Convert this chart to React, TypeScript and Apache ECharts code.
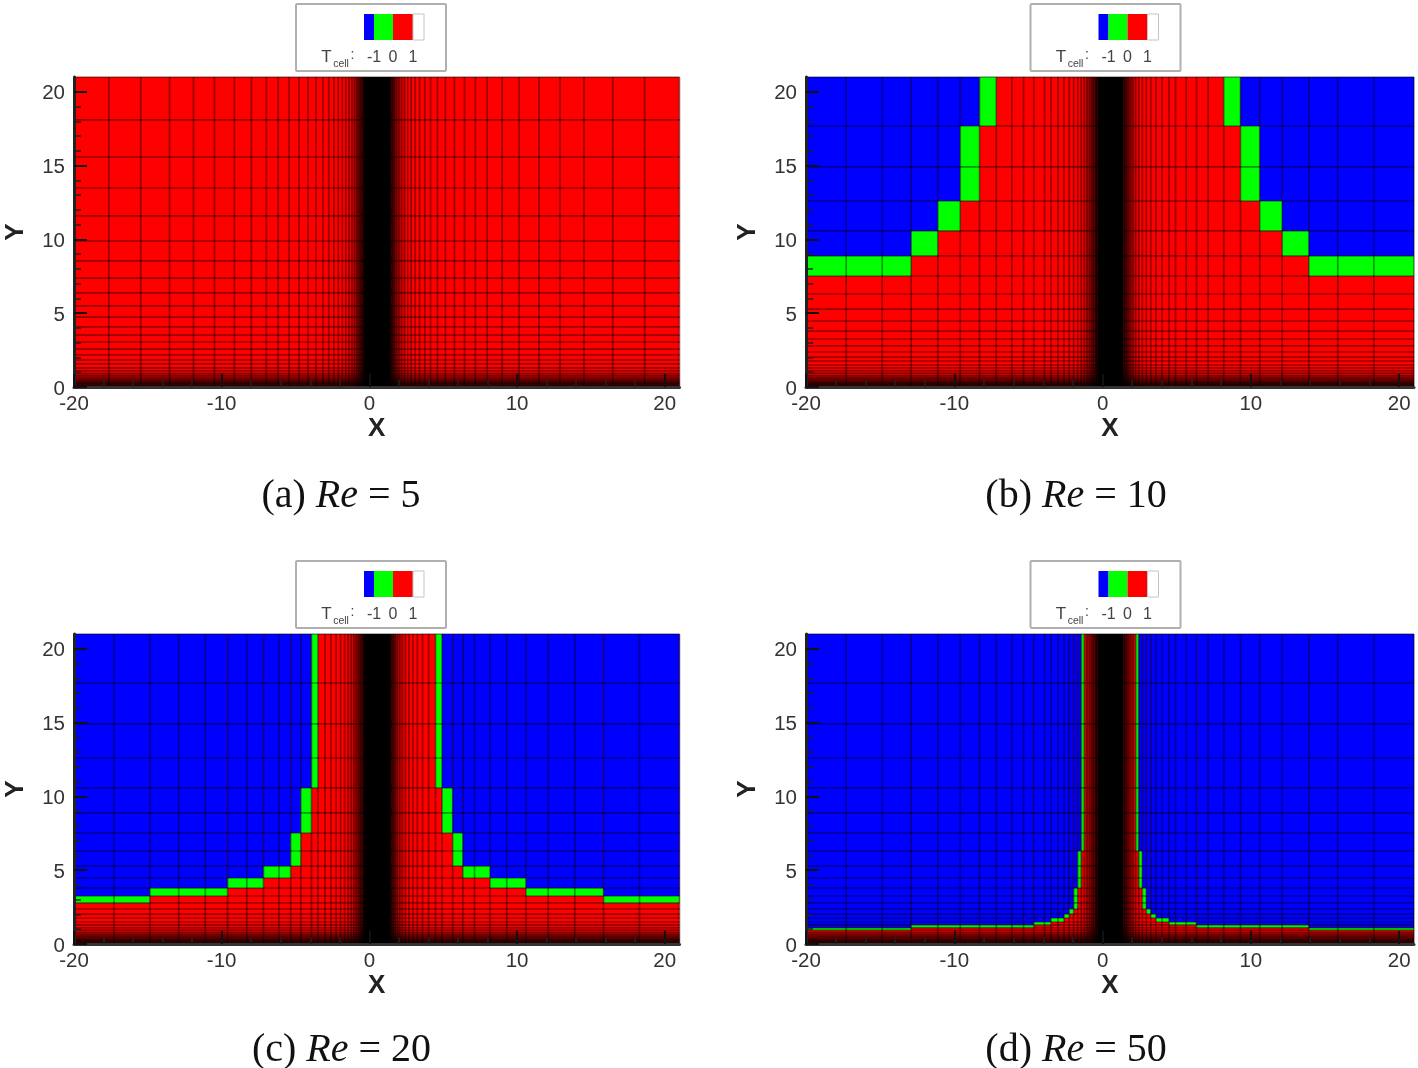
import React, { useEffect, useRef } from "react";
import * as echarts from "echarts";

const X_MIN = -20, X_MAX = 21, Y_MIN = 0, Y_MAX = 21;

const xMajorTicks = [-20, -10, 0, 10, 20];
const xMinorTicks = [-18, -16, -14, -12, -8, -6, -4, -2, 2, 4, 6, 8, 12, 14, 16, 18];
const yMajorTicks = [0, 5, 10, 15, 20];
const yMinorTicks = [1, 2, 3, 4, 6, 7, 8, 9, 11, 12, 13, 14, 16, 17, 18, 19];

const xMeshA = [-20, -17.64, -15.48, -13.53, -11.91, -10.49, -9.14, -7.99, -6.98, -6.18, -5.44, -4.76, -4.15, -3.61, -3.14, -2.75, -2.4, -2.1, -1.83, -1.6, -1.38, -1.18, -1.0, -0.85, -0.72, -0.6,
  1.6, 1.72, 1.85, 2.0, 2.18, 2.38, 2.6, 2.83, 3.1, 3.4, 3.75, 4.14, 4.61, 5.15, 5.76, 6.44, 7.18, 7.98, 8.99, 10.14, 11.49, 12.91, 14.53, 16.48, 18.64, 21];
const yMeshA = [0, 0.22, 0.3, 0.38, 0.48, 0.6, 0.75, 0.9, 1.1, 1.3, 1.56, 1.83, 2.17, 2.57, 3.05, 3.52, 4.07, 4.74, 5.49, 6.37, 7.38, 8.54, 9.89, 11.59, 13.48, 15.58, 18.09, 21];
const xMeshB = [-20, -17.29, -14.86, -12.91, -11.11, -9.6, -8.3, -7.17, -6.12, -5.33, -4.64, -3.92, -3.48, -3.01, -2.6, -2.25, -1.95, -1.68, -1.44, -1.23, -1.05, -0.89, -0.75, -0.62,
  1.62, 1.75, 1.89, 2.05, 2.23, 2.44, 2.68, 2.95, 3.25, 3.6, 4.01, 4.48, 4.92, 5.64, 6.33, 7.12, 8.17, 9.3, 10.6, 12.11, 13.91, 15.86, 18.29, 21];
const yMeshB = [0, 0.2, 0.27, 0.35, 0.44, 0.54, 0.65, 0.78, 0.93, 1.1, 1.29, 1.49, 1.76, 2.03, 2.37, 2.78, 3.25, 3.79, 4.47, 5.28, 6.3, 7.52, 8.88, 10.57, 12.6, 14.91, 17.68, 21];

// Green (Tcell = 0) cells: [x from, x to, y from, y to]. Below is red (1), above is blue (-1).
const greenA: number[][] = [];
const greenB = [
  [-20, -12.91, 7.52, 8.88], [-12.91, -11.11, 8.88, 10.57], [-11.11, -9.6, 10.57, 12.6], [-9.6, -8.3, 12.6, 17.68], [-8.3, -7.17, 17.68, 21],
  [8.17, 9.3, 17.68, 21], [9.3, 10.6, 12.6, 17.68], [10.6, 12.11, 10.57, 12.6], [12.11, 13.91, 8.88, 10.57], [13.91, 21, 7.52, 8.88],
];
const greenC = [
  [-20, -14.86, 2.78, 3.25], [-14.86, -9.6, 3.25, 3.79], [-9.6, -7.17, 3.79, 4.47], [-7.17, -5.33, 4.47, 5.28], [-5.33, -4.64, 5.28, 7.52], [-4.64, -3.92, 7.52, 10.57], [-3.92, -3.48, 10.57, 21],
  [4.48, 4.92, 10.57, 21], [4.92, 5.64, 7.52, 10.57], [5.64, 6.33, 5.28, 7.52], [6.33, 8.17, 4.47, 5.28], [8.17, 10.6, 3.79, 4.47], [10.6, 15.86, 3.25, 3.79], [15.86, 21, 2.78, 3.25],
];
const greenD = [
  [-20, -12.91, 0.93, 1.1], [-12.91, -4.64, 1.1, 1.29], [-4.64, -3.48, 1.29, 1.49], [-3.48, -2.6, 1.49, 1.76], [-2.6, -2.25, 1.76, 2.03], [-2.25, -1.95, 2.03, 2.37], [-1.95, -1.68, 2.37, 3.79], [-1.68, -1.44, 3.79, 6.3], [-1.44, -1.23, 6.3, 21],
  [2.23, 2.44, 6.3, 21], [2.44, 2.68, 3.79, 6.3], [2.68, 2.95, 2.37, 3.79], [2.95, 3.25, 2.03, 2.37], [3.25, 3.6, 1.76, 2.03], [3.6, 4.48, 1.49, 1.76], [4.48, 6.33, 1.29, 1.49], [6.33, 13.91, 1.1, 1.29], [13.91, 21, 0.93, 1.1],
];

// Darkened zones next to the walls: [x from, x to, y from, y to, kind]
const wallShades = [
  [-1.7, -0.36, 0, 21, 0],
  [-0.36, 1.4, 0, 21, 1],
  [1.4, 2.65, 0, 21, 2],
  [-20, 21, 0, 1.4, 3],
];

const RED = "#ff0000", GREEN = "#00ff00", BLUE = "#0000ff";
const legendColors = [BLUE, GREEN, RED, "#ffffff"];
const legendLabels = ["-1", "0", "1"];
const SANS = "'Liberation Sans', Arial, sans-serif";
const SERIF = "'Liberation Serif', 'Times New Roman', serif";

const panels = [
  { left: 71.5, top: 77, green: greenA, xMesh: xMeshA, yMesh: yMeshA, tag: "(a) ", re: " = 5", capX: 341, capY: 493 },
  { left: 806, top: 77, green: greenB, xMesh: xMeshB, yMesh: yMeshB, tag: "(b) ", re: " = 10", capX: 1076, capY: 493 },
  { left: 71.5, top: 634, green: greenC, xMesh: xMeshB, yMesh: yMeshB, tag: "(c) ", re: " = 20", capX: 341.5, capY: 1047 },
  { left: 806, top: 634, green: greenD, xMesh: xMeshB, yMesh: yMeshB, tag: "(d) ", re: " = 50", capX: 1076, capY: 1047 },
];
const PW = 608, PH = 310;

const stops = (c: number[][]) => c.map(([offset, a]) => ({ offset, color: `rgba(0,0,0,${a})` }));
const rampUp = [[0, 0], [0.35, 0.1], [0.65, 0.32], [0.85, 0.65], [1, 1]];
const rampDown = [[0, 1], [0.15, 0.65], [0.35, 0.32], [0.65, 0.1], [1, 0]];

function rectOf(api: any) {
  const a = api.coord([api.value(0), api.value(2)]);
  const b = api.coord([api.value(1), api.value(3)]);
  return { x: a[0], y: b[1], width: b[0] - a[0], height: a[1] - b[1] };
}

function buildOption() {
  const grid: any[] = [], xAxis: any[] = [], yAxis: any[] = [], series: any[] = [], graphic: any[] = [];
  panels.forEach((p, i) => {
    grid.push({ left: p.left, top: p.top, width: PW, height: PH, containLabel: false });
    const labelStyle = { fontFamily: SANS, fontSize: 20.5, color: "#333", lineHeight: 15 };
    const nameStyle = { fontFamily: SANS, fontSize: 26, fontWeight: "bold" as const, color: "#222" };
    const base = { type: "value" as const, gridIndex: i, splitLine: { show: false }, z: 6 };
    xAxis.push({
      ...base, min: X_MIN, max: X_MAX, interval: 10, position: "bottom",
      name: "X", nameLocation: "middle", nameGap: 25, nameTextStyle: nameStyle,
      axisLine: { show: true, onZero: false, lineStyle: { color: "#333", width: 3 } },
      axisTick: { show: true, inside: true, length: 13, customValues: xMajorTicks, lineStyle: { color: "#111", width: 2 } },
      axisLabel: { show: true, margin: 8, customValues: xMajorTicks, ...labelStyle },
    });
    xAxis.push({
      ...base, min: X_MIN, max: X_MAX, interval: 10, position: "bottom",
      axisLine: { show: false, onZero: false },
      axisTick: { show: true, inside: true, length: 7, customValues: xMinorTicks, lineStyle: { color: "#222", width: 1.5 } },
      axisLabel: { show: false },
    });
    yAxis.push({
      ...base, min: Y_MIN, max: Y_MAX, interval: 5, position: "left",
      name: "Y", nameLocation: "middle", nameGap: 47, nameTextStyle: nameStyle,
      axisLine: { show: true, onZero: false, lineStyle: { color: "#222", width: 3 } },
      axisTick: { show: true, inside: true, length: 13, customValues: yMajorTicks, lineStyle: { color: "#111", width: 2 } },
      axisLabel: { show: true, margin: 9, customValues: yMajorTicks, ...labelStyle },
    });
    yAxis.push({
      ...base, min: Y_MIN, max: Y_MAX, interval: 5, position: "left",
      axisLine: { show: false, onZero: false },
      axisTick: { show: true, inside: true, length: 7, customValues: yMinorTicks, lineStyle: { color: "#222", width: 1.5 } },
      axisLabel: { show: false },
    });
    const xi = i * 2, yi = i * 2;

    const cells: any[] = [[X_MIN, X_MAX, Y_MIN, Y_MAX, RED]];
    p.green.forEach(([x0, x1, y0, y1]) => {
      cells.push([x0, x1, y0, y1, GREEN]);
      if (y1 < Y_MAX) cells.push([x0, x1, y1, Y_MAX, BLUE]);
    });
    series.push({
      type: "custom", xAxisIndex: xi, yAxisIndex: yi, silent: true, z: 2, clip: true,
      encode: { x: [0, 1], y: [2, 3] },
      data: cells,
      renderItem: (params: any, api: any) => ({
        type: "rect", shape: rectOf(api), style: { fill: cells[params.dataIndex][4] },
      }),
    });

    const lines: number[][] = [
      ...p.xMesh.map((x) => [x, x, Y_MIN, Y_MAX]),
      ...p.yMesh.map((y) => [X_MIN, X_MAX, y, y]),
    ];
    series.push({
      type: "custom", xAxisIndex: xi, yAxisIndex: yi, silent: true, z: 3, clip: false,
      encode: { x: [0, 1], y: [2, 3] },
      data: lines,
      renderItem: (_: any, api: any) => {
        const a = api.coord([api.value(0), api.value(2)]);
        const b = api.coord([api.value(1), api.value(3)]);
        return { type: "line", shape: { x1: a[0], y1: a[1], x2: b[0], y2: b[1] }, style: { stroke: "rgba(0,0,0,0.4)", lineWidth: 1.7 } };
      },
    });

    series.push({
      type: "custom", xAxisIndex: xi, yAxisIndex: yi, silent: true, z: 4, clip: true,
      encode: { x: [0, 1], y: [2, 3] },
      data: wallShades,
      renderItem: (_: any, api: any) => {
        const kind = api.value(4);
        let fill: any = "#000000";
        if (kind === 0) fill = { type: "linear", x: 0, y: 0, x2: 1, y2: 0, colorStops: stops(rampUp) };
        if (kind === 2) fill = { type: "linear", x: 0, y: 0, x2: 1, y2: 0, colorStops: stops(rampDown) };
        if (kind === 3) fill = { type: "linear", x: 0, y: 0, x2: 0, y2: 1, colorStops: stops(rampUp) };
        return { type: "rect", shape: rectOf(api), style: { fill } };
      },
    });

    // Legend box
    const ox = p.left - 71.5, oy = p.top - 77;
    graphic.push({ type: "rect", x: ox + 296, y: oy + 4, shape: { width: 150, height: 67, r: 1 }, style: { fill: "#fff", stroke: "#b0b0b0", lineWidth: 2 } });
    const barX = [364, 374, 393, 413, 424];
    legendColors.forEach((c, k) => {
      graphic.push({ type: "rect", x: ox + barX[k], y: oy + 14, shape: { width: barX[k + 1] - barX[k], height: 26 }, style: { fill: c, stroke: k === 3 ? "#c4c4c4" : c, lineWidth: k === 3 ? 1 : 0 } });
    });
    const txt = (text: string, x: number, y: number, size: number) => ({
      type: "text", x: ox + x, y: oy + y, style: { text, fontFamily: SANS, fontSize: size, fill: "#444", textAlign: "center", textVerticalAlign: "middle" },
    });
    graphic.push(txt("T", 326.5, 56, 17), txt("cell", 341, 62.5, 10.5), txt(":", 352.5, 54, 14));
    [374, 393, 413].forEach((x, k) => graphic.push(txt(legendLabels[k], x, 56, 16)));

    // Caption
    graphic.push({
      type: "text", x: p.capX, y: p.capY,
      style: {
        text: `${p.tag}{i|Re}${p.re}`, fontFamily: SERIF, fontSize: 40, fill: "#111", textAlign: "center", textVerticalAlign: "middle",
        rich: { i: { fontFamily: SERIF, fontSize: 40, fontStyle: "italic", fill: "#111" } },
      },
    });
  });
  return { animation: false, backgroundColor: "#ffffff", grid, xAxis, yAxis, series, graphic };
}

export default function App() {
  const ref = useRef<HTMLDivElement>(null);
  useEffect(() => {
    if (!ref.current) return;
    const chart = echarts.init(ref.current, undefined, { renderer: "svg" });
    chart.setOption(buildOption() as any);
    return () => chart.dispose();
  }, []);
  return <div ref={ref} style={{ position: "absolute", left: 0, top: 0, width: 1418, height: 1068, filter: "blur(0.6px)" }} />;
}
